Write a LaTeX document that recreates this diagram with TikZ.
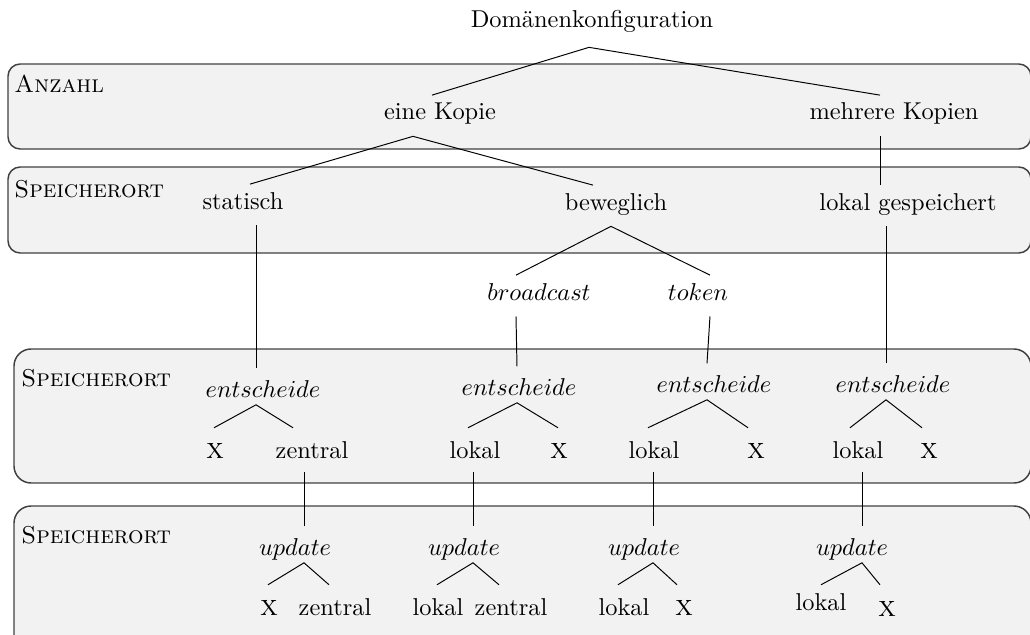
\documentclass[tikz,border=0pt]{standalone}
\usepackage{fontspec}
\newcommand{\xmark}{{\large\textsc{x}}}
\begin{document}
\begin{tikzpicture}[x=0.41pt, y=-0.41pt,
  band/.style={draw=black!75, line width=0.6pt, fill=black!5, rounded corners=5pt},
  lbl/.style={inner sep=0pt, anchor=base, text height=10pt, text depth=6.5pt},
  op/.style={inner sep=0pt, anchor=base, text height=11.5pt, text depth=3pt},
  leaf/.style={inner sep=0pt, anchor=base, text height=12.2pt, text depth=5.5pt},
  tag/.style={inner sep=0pt, anchor=base west},
  edge/.style={line width=0.4pt}]
\useasboundingbox (0,0) rectangle (1030,635);

% background bands
\path[band] (8,64) rectangle (1031,149);
\path[band] (8,167) rectangle (1031,253);
\path[band, rounded corners=7pt] (14,349) rectangle (1031,483);
\path[band, rounded corners=7pt] (14,506) rectangle (1031,660);

% band titles
\node[tag] (t1) at (14,93) {\textsc{Anzahl}};
\node[tag] (t2) at (14,197) {\textsc{Speicherort}};
\node[tag] (t3) at (21,386) {\textsc{Speicherort}};
\node[tag] (t4) at (21,543) {\textsc{Speicherort}};

% upper tree
\node[lbl] (dk) at (592,28) {Domänenkonfiguration};
\node[lbl] (ek) at (440,120) {eine Kopie};
\node[lbl] (mk) at (894,120) {mehrere Kopien};
\node[lbl] (st) at (243,209) {statisch};
\node[lbl] (bw) at (616,210) {beweglich};
\node[lbl] (lg) at (908,210) {lokal gespeichert};
\node[lbl] (bc) at (539,300) {$broadcast$};
\node[lbl] (tk) at (698,300) {$token$};

% decision level
\node[op] (e1) at (263,397) {$entscheide$};
\node[op] (e2) at (519,395) {$entscheide$};
\node[op] (e3) at (714,392) {$entscheide$};
\node[op] (e4) at (893,392) {$entscheide$};
\node[leaf] (ex1) at (215,458) {\xmark};
\node[leaf] (ez1) at (312,458) {zentral};
\node[leaf] (el2) at (475,458) {lokal};
\node[leaf] (ex2) at (559,458) {\xmark};
\node[leaf] (el3) at (654,458) {lokal};
\node[leaf] (ex3) at (756,458) {\xmark};
\node[leaf] (el4) at (858,458) {lokal};
\node[leaf] (ex4) at (929,458) {\xmark};

% update level
\node[op] (u1) at (295,555) {$update$};
\node[op] (u2) at (464,555) {$update$};
\node[op] (u3) at (644,555) {$update$};
\node[op] (u4) at (852,555) {$update$};
\node[leaf] (ux1) at (269,615) {\xmark};
\node[leaf] (uz1) at (335,615) {zentral};
\node[leaf] (ul2) at (438,615) {lokal};
\node[leaf] (uz2) at (511,615) {zentral};
\node[leaf] (ul3) at (624,615) {lokal};
\node[leaf] (ux3) at (684,615) {\xmark};
\node[leaf] (ul4) at (821,610) {lokal};
\node[leaf] (ux4) at (887,616) {\xmark};

% connectors
\draw[edge] ([shift={(-3,3)}]dk.south) -- ([shift={(-8,0)}]ek.north);
\draw[edge] ([shift={(-3,3)}]dk.south) -- ([shift={(-14,0)}]mk.north);
\draw[edge] ([shift={(-27,0)}]ek.south) -- ([shift={(7,0)}]st.north);
\draw[edge] ([shift={(-27,0)}]ek.south) -- ([shift={(-23,0)}]bw.north);
\draw[edge] ([shift={(-14,0)}]mk.south) -- ([shift={(-28,0)}]lg.north);
\draw[edge] ([shift={(-5,0)}]bw.south) -- ([shift={(-23,0)}]bc.north);
\draw[edge] ([shift={(-5,0)}]bw.south) -- ([shift={(12,0)}]tk.north);
\draw[edge] ([shift={(13,0)}]st.south) -- ([shift={(-7,0)}]e1.north);
\draw[edge] ([shift={(-23,0)}]bc.south) -- ([shift={(-2,0)}]e2.north);
\draw[edge] ([shift={(12,0)}]tk.south) -- ([shift={(-7,0)}]e3.north);
\draw[edge] ([shift={(-22,0)}]lg.south) -- ([shift={(-7,0)}]e4.north);

\draw[edge] ([shift={(-1,0)}]ex1.north) -- ([shift={(-7,0)}]e1.south) -- ([shift={(-19,0)}]ez1.north);
\draw[edge] ([shift={(-7,0)}]el2.north) -- ([shift={(-2,0)}]e2.south) -- ([shift={(-1,0)}]ex2.north);
\draw[edge] ([shift={(-6,0)}]el3.north) -- ([shift={(-7,0)}]e3.south) -- ([shift={(-8,0)}]ex3.north);
\draw[edge] ([shift={(-8,0)}]el4.north) -- ([shift={(-7,0)}]e4.south) -- ([shift={(-7,0)}]ex4.north);

\draw[edge] ([shift={(-8,0)}]ez1.south) -- ([shift={(9,0)}]u1.north);
\draw[edge] ([shift={(-2,0)}]el2.south) -- ([shift={(9,0)}]u2.north);
\draw[edge] ([shift={(-1,0)}]el3.south) -- ([shift={(9,0)}]u3.north);
\draw[edge] ([shift={(4,0)}]el4.south) -- ([shift={(10,0)}]u4.north);

\draw[edge] ([shift={(-1,0)}]ux1.north) -- ([shift={(9,0)}]u1.south) -- ([shift={(-6,0)}]uz1.north);
\draw[edge] ([shift={(-1,0)}]ul2.north) -- ([shift={(9,0)}]u2.south) -- ([shift={(-12,0)}]uz2.north);
\draw[edge] ([shift={(-6,0)}]ul3.north) -- ([shift={(9,0)}]u3.south) -- ([shift={(-7,0)}]ux3.north);
\draw[edge] ([shift={(0,5)}]ul4.north) -- ([shift={(10,0)}]u4.south) -- ([shift={(-7,-1)}]ux4.north);
\end{tikzpicture}
\end{document}
